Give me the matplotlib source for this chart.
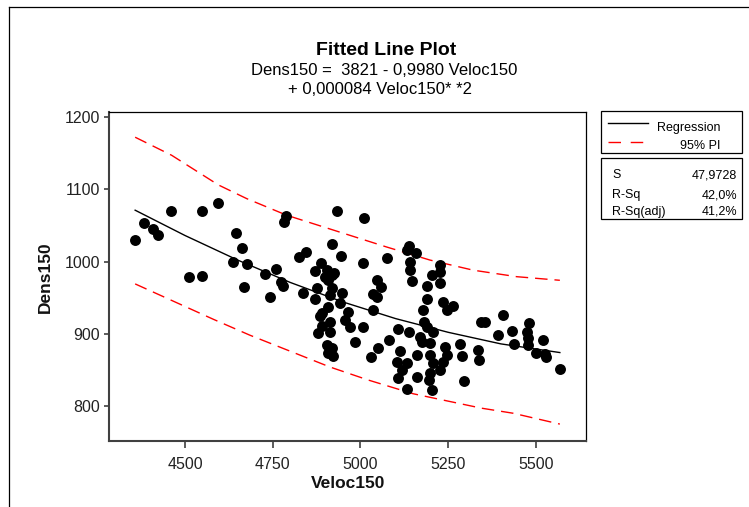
import matplotlib as mpl
mpl.use('Agg')
import matplotlib.pyplot as plt
from matplotlib.lines import Line2D
from matplotlib.patches import Rectangle

veloc = [4358, 4383, 4409, 4423, 4460, 4548, 4594, 4511, 4548, 4645,
         4662, 4637, 4677, 4668, 4728, 4759, 4742, 4774, 4779, 4788,
         4782, 4825, 4845, 4836, 4870, 4887, 4870, 4876, 4933, 4919,
         4944, 4905, 4919, 4899, 4907, 4925, 4919, 4913, 4947, 4942,
         4907, 4890, 4885, 4913, 4890, 4879, 4913, 4956, 4905, 4919,
         4922, 4907, 4964, 4970, 5007, 4984, 5010, 5007, 5075, 5047,
         5058, 5036, 5047, 5036, 5138, 5132, 5158, 5141, 5141, 5147,
         5204, 5226, 5226, 5189, 5226, 5189, 5178, 5181, 5189, 5207,
         5235, 5246, 5264, 5107, 5138, 5081, 5050, 5030, 5113, 5104,
         5132, 5118, 5107, 5161, 5132, 5161, 5175, 5169, 5198, 5198,
         5207, 5226, 5195, 5204, 5241, 5246, 5235, 5283, 5289, 5295,
         5335, 5338, 5343, 5355, 5406, 5392, 5432, 5437, 5480, 5474,
         5477, 5477, 5520, 5500, 5526, 5528, 5568, 5198]
dens = [1030, 1053, 1045, 1037, 1070, 1070, 1081, 979, 980, 1039,
        1019, 999, 997, 965, 983, 990, 951, 972, 966, 1063,
        1055, 1006, 1013, 956, 987, 998, 948, 963, 1070, 1024,
        1008, 988, 981, 979, 974, 984, 963, 954, 956, 943,
        937, 929, 925, 916, 911, 901, 902, 919, 884, 880,
        869, 873, 930, 909, 909, 889, 1060, 998, 1005, 974,
        965, 955, 951, 933, 1021, 1016, 1012, 999, 988, 973,
        981, 995, 985, 966, 970, 948, 933, 916, 909, 902,
        944, 933, 938, 907, 902, 891, 880, 868, 876, 861,
        860, 850, 839, 840, 824, 871, 889, 896, 887, 871,
        860, 850, 836, 822, 882, 871, 861, 886, 869, 835,
        878, 864, 916, 916, 926, 898, 904, 886, 915, 902,
        894, 884, 891, 873, 872, 868, 851, 846]

# fitted curve and 95% prediction interval
fit_v = [4358, 4500, 4650, 4800, 4950, 5100, 5250, 5400, 5568]
fit_d = [1071, 1036, 1002, 971, 944, 921, 902, 886, 874]
pi_hi_v = [4358, 4462, 4595, 4676, 4790, 4913, 5075, 5198, 5321, 5445, 5568]
pi_hi_d = [1172, 1147, 1106, 1087, 1064, 1045, 1020, 1002, 988, 979, 974]
pi_lo_v = [4358, 4581, 4685, 4913, 5022, 5150, 5345, 5435, 5568]
pi_lo_d = [969, 920, 898, 854, 836, 817, 797, 790, 775]

title = 'Fitted Line Plot'
eq1 = 'Dens150 =  3821 - 0,9980 Veloc150'
eq2 = '+ 0,000084 Veloc150* *2'
stat_names = ['S', 'R-Sq', 'R-Sq(adj)']
stat_vals = ['47,9728', '42,0%', '41,2%']

W, H = 749, 507
plt.rcParams['font.family'] = ['Liberation Sans', 'DejaVu Sans']

def fx(px):
    return px / W

def fy(py):
    return 1 - py / H

fig = plt.figure(figsize=(W / 100, H / 100), dpi=100)
ax = fig.add_axes([fx(109), fy(441), fx(586) - fx(109), fy(112) - fy(441)])

dash = (9, 5)
ax.plot(pi_hi_v, pi_hi_d, color='red', lw=1.0, dashes=dash, zorder=2)
ax.plot(pi_lo_v, pi_lo_d, color='red', lw=1.0, dashes=dash, zorder=2)
ax.scatter(veloc, dens, s=62, color='black', linewidths=0, zorder=3)
ax.plot(fit_v, fit_d, color='black', lw=1.0, zorder=4)

ax.set_xlim(4283.5, 5642.5)
ax.set_ylim(751.6, 1206.9)
ax.set_xticks([4500, 4750, 5000, 5250, 5500])
ax.set_yticks([800, 900, 1000, 1100, 1200])
ax.tick_params(axis='x', length=4.8, width=1.2, color='#404040', pad=6.5,
               labelsize=11.5, labelcolor='#222222')
ax.tick_params(axis='y', length=3.6, width=1.2, color='#404040', pad=3,
               labelsize=11.5, labelcolor='#222222')
for side in ['left', 'bottom']:
    ax.spines[side].set_color('#404040')
    ax.spines[side].set_linewidth(1.5)
for side in ['top', 'right']:
    ax.spines[side].set_color('black')
    ax.spines[side].set_linewidth(0.9)

fig.text(fx(348), fy(484), 'Veloc150', ha='center', va='center',
         fontsize=12.5, fontweight='bold', color='#111111')
fig.text(fx(45), fy(277), 'Dens150', ha='center', va='center', rotation=90,
         fontsize=12.5, fontweight='bold', color='#111111')

fig.text(fx(386), fy(55), title, ha='center', va='baseline',
         fontsize=14, fontweight='bold')
fig.text(fx(384), fy(75), eq1, ha='center', va='baseline', fontsize=12)
fig.text(fx(380), fy(94), eq2, ha='center', va='baseline', fontsize=12)

# legend box
fig.add_artist(Rectangle((fx(601), fy(153)), fx(742) - fx(601), fy(111) - fy(153),
                         transform=fig.transFigure, fill=False, lw=0.9, ec='black'))
fig.add_artist(Line2D([fx(608), fx(648)], [fy(123), fy(123)],
                      transform=fig.transFigure, color='black', lw=1.0))
fig.add_artist(Line2D([fx(608), fx(645)], [fy(142), fy(142)],
                      transform=fig.transFigure, color='red', lw=1.0, dashes=(9, 7)))
fig.text(fx(721), fy(128), 'Regression', ha='right', va='center', fontsize=9)
fig.text(fx(720), fy(146), '95% PI', ha='right', va='center', fontsize=9)

# summary box
fig.add_artist(Rectangle((fx(601), fy(219)), fx(742) - fx(601), fy(158) - fy(219),
                         transform=fig.transFigure, fill=False, lw=0.9, ec='black'))
for name, val, py in zip(stat_names, stat_vals, [175, 195, 212]):
    fig.text(fx(612), fy(py), name, ha='left', va='center', fontsize=9)
    fig.text(fx(737), fy(py), val, ha='right', va='center', fontsize=9)

# outer frame (left and top edges visible)
fig.add_artist(Line2D([fx(9), fx(9)], [fy(7), 0], transform=fig.transFigure,
                      color='black', lw=0.9))
fig.add_artist(Line2D([fx(9), 1], [fy(7), fy(7)], transform=fig.transFigure,
                      color='black', lw=0.9))

fig.savefig('out.png', dpi=100)
